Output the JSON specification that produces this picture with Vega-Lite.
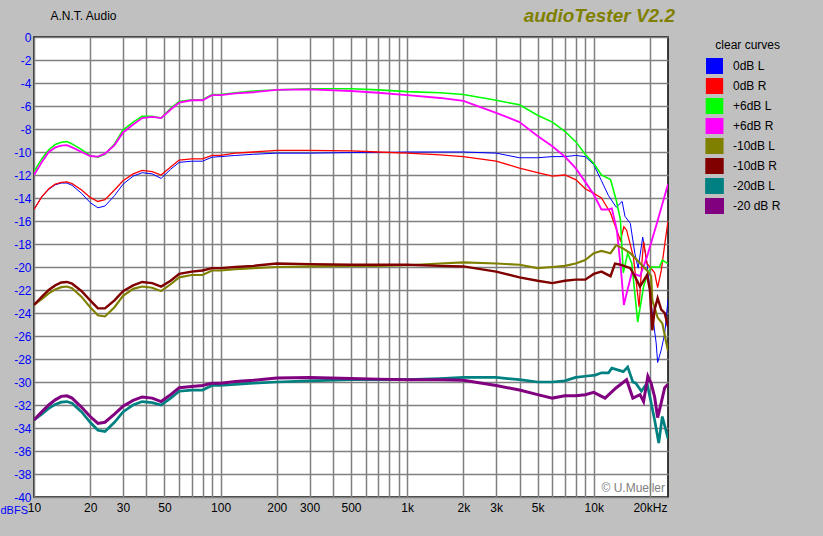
{
"$schema": "https://vega.github.io/schema/vega-lite/v6.json",
"width": 634, "height": 460,
"autosize": "none",
"padding": {"left": 34, "top": 37, "right": 155, "bottom": 39},
"background": "#c0c0c0",
"title": {"text": "audioTester V2.2", "anchor": "end", "frame": "group", "color": "#808000", "font": "Liberation Sans", "fontSize": 19, "fontWeight": "bold", "fontStyle": "italic", "offset": -36, "baseline": "bottom", "dx": 7},
"config": {"view": {"fill": "#ffffff", "stroke": "#000000", "strokeWidth": 1.5}, "font": "Liberation Sans", "axis": {"labelOverlap": false, "labelSeparation": 0}},
"layer": [
{
"data": {"values": [
{"series":"0dB L","hz":10,"db":-15.0},{"series":"0dB L","hz":11,"db":-13.9},{"series":"0dB L","hz":12,"db":-13.25},{"series":"0dB L","hz":13,"db":-12.85},{"series":"0dB L","hz":14,"db":-12.7},{"series":"0dB L","hz":15,"db":-12.7},{"series":"0dB L","hz":16,"db":-12.9},{"series":"0dB L","hz":18,"db":-13.6},{"series":"0dB L","hz":20,"db":-14.4},{"series":"0dB L","hz":22,"db":-14.85},{"series":"0dB L","hz":24,"db":-14.7},{"series":"0dB L","hz":27,"db":-13.8},{"series":"0dB L","hz":30,"db":-12.8},{"series":"0dB L","hz":34,"db":-12.1},{"series":"0dB L","hz":38,"db":-11.8},{"series":"0dB L","hz":43,"db":-11.9},{"series":"0dB L","hz":48,"db":-12.3},{"series":"0dB L","hz":54,"db":-11.5},{"series":"0dB L","hz":60,"db":-10.9},{"series":"0dB L","hz":70,"db":-10.8},{"series":"0dB L","hz":80,"db":-10.8},{"series":"0dB L","hz":90,"db":-10.45},{"series":"0dB L","hz":100,"db":-10.4},{"series":"0dB L","hz":120,"db":-10.3},{"series":"0dB L","hz":150,"db":-10.2},{"series":"0dB L","hz":200,"db":-10.1},{"series":"0dB L","hz":300,"db":-10.1},{"series":"0dB L","hz":500,"db":-10.05},{"series":"0dB L","hz":700,"db":-10.05},{"series":"0dB L","hz":1000,"db":-10.0},{"series":"0dB L","hz":1500,"db":-10.0},{"series":"0dB L","hz":2000,"db":-10.0},{"series":"0dB L","hz":3000,"db":-10.1},{"series":"0dB L","hz":4000,"db":-10.5},{"series":"0dB L","hz":5000,"db":-10.5},{"series":"0dB L","hz":6000,"db":-10.4},{"series":"0dB L","hz":7000,"db":-10.4},{"series":"0dB L","hz":8000,"db":-10.3},{"series":"0dB L","hz":9000,"db":-10.4},{"series":"0dB L","hz":10000,"db":-11.1},{"series":"0dB L","hz":11000,"db":-12.5},{"series":"0dB L","hz":12000,"db":-13.8},{"series":"0dB L","hz":13200,"db":-14.8},{"series":"0dB L","hz":14200,"db":-14.3},{"series":"0dB L","hz":14700,"db":-15.6},{"series":"0dB L","hz":15700,"db":-16.2},{"series":"0dB L","hz":16600,"db":-18.8},{"series":"0dB L","hz":17300,"db":-20.1},{"series":"0dB L","hz":18300,"db":-17.4},{"series":"0dB L","hz":19300,"db":-19.7},{"series":"0dB L","hz":20000,"db":-22.0},{"series":"0dB L","hz":20600,"db":-24.0},{"series":"0dB L","hz":21600,"db":-26.6},{"series":"0dB L","hz":22000,"db":-28.3},{"series":"0dB L","hz":23000,"db":-27.2},{"series":"0dB L","hz":24000,"db":-25.8},{"series":"0dB L","hz":25000,"db":-22.8},
{"series":"0dB R","hz":10,"db":-15.0},{"series":"0dB R","hz":11,"db":-13.9},{"series":"0dB R","hz":12,"db":-13.2},{"series":"0dB R","hz":13,"db":-12.8},{"series":"0dB R","hz":14,"db":-12.65},{"series":"0dB R","hz":15,"db":-12.6},{"series":"0dB R","hz":16,"db":-12.75},{"series":"0dB R","hz":18,"db":-13.3},{"series":"0dB R","hz":20,"db":-13.95},{"series":"0dB R","hz":22,"db":-14.3},{"series":"0dB R","hz":24,"db":-14.15},{"series":"0dB R","hz":27,"db":-13.3},{"series":"0dB R","hz":30,"db":-12.5},{"series":"0dB R","hz":34,"db":-11.9},{"series":"0dB R","hz":38,"db":-11.6},{"series":"0dB R","hz":43,"db":-11.7},{"series":"0dB R","hz":48,"db":-12.0},{"series":"0dB R","hz":54,"db":-11.3},{"series":"0dB R","hz":60,"db":-10.7},{"series":"0dB R","hz":70,"db":-10.6},{"series":"0dB R","hz":80,"db":-10.6},{"series":"0dB R","hz":90,"db":-10.3},{"series":"0dB R","hz":100,"db":-10.3},{"series":"0dB R","hz":120,"db":-10.1},{"series":"0dB R","hz":150,"db":-10.0},{"series":"0dB R","hz":200,"db":-9.85},{"series":"0dB R","hz":300,"db":-9.85},{"series":"0dB R","hz":500,"db":-9.9},{"series":"0dB R","hz":700,"db":-10.0},{"series":"0dB R","hz":1000,"db":-10.1},{"series":"0dB R","hz":1500,"db":-10.25},{"series":"0dB R","hz":2000,"db":-10.4},{"series":"0dB R","hz":3000,"db":-10.8},{"series":"0dB R","hz":4000,"db":-11.4},{"series":"0dB R","hz":5000,"db":-11.8},{"series":"0dB R","hz":6000,"db":-12.1},{"series":"0dB R","hz":7000,"db":-12.0},{"series":"0dB R","hz":8000,"db":-12.4},{"series":"0dB R","hz":9000,"db":-13.2},{"series":"0dB R","hz":10000,"db":-13.6},{"series":"0dB R","hz":11000,"db":-14.0},{"series":"0dB R","hz":12300,"db":-15.3},{"series":"0dB R","hz":13900,"db":-17.7},{"series":"0dB R","hz":14500,"db":-16.5},{"series":"0dB R","hz":15000,"db":-16.8},{"series":"0dB R","hz":16300,"db":-19.1},{"series":"0dB R","hz":17000,"db":-21.7},{"series":"0dB R","hz":17500,"db":-23.5},{"series":"0dB R","hz":18100,"db":-19.7},{"series":"0dB R","hz":18500,"db":-17.8},{"series":"0dB R","hz":19300,"db":-19.7},{"series":"0dB R","hz":20000,"db":-20.0},{"series":"0dB R","hz":21200,"db":-20.5},{"series":"0dB R","hz":22000,"db":-21.8},{"series":"0dB R","hz":23000,"db":-20.3},{"series":"0dB R","hz":23900,"db":-18.3},{"series":"0dB R","hz":25000,"db":-16.0},
{"series":"+6dB L","hz":10,"db":-11.7},{"series":"+6dB L","hz":11,"db":-10.6},{"series":"+6dB L","hz":12,"db":-9.8},{"series":"+6dB L","hz":13,"db":-9.35},{"series":"+6dB L","hz":14,"db":-9.15},{"series":"+6dB L","hz":15,"db":-9.1},{"series":"+6dB L","hz":16,"db":-9.3},{"series":"+6dB L","hz":18,"db":-9.8},{"series":"+6dB L","hz":20,"db":-10.3},{"series":"+6dB L","hz":22,"db":-10.45},{"series":"+6dB L","hz":24,"db":-10.2},{"series":"+6dB L","hz":27,"db":-9.3},{"series":"+6dB L","hz":30,"db":-8.1},{"series":"+6dB L","hz":34,"db":-7.4},{"series":"+6dB L","hz":38,"db":-6.9},{"series":"+6dB L","hz":43,"db":-6.9},{"series":"+6dB L","hz":48,"db":-7.05},{"series":"+6dB L","hz":54,"db":-6.2},{"series":"+6dB L","hz":60,"db":-5.6},{"series":"+6dB L","hz":70,"db":-5.45},{"series":"+6dB L","hz":80,"db":-5.45},{"series":"+6dB L","hz":90,"db":-5.0},{"series":"+6dB L","hz":100,"db":-5.0},{"series":"+6dB L","hz":120,"db":-4.85},{"series":"+6dB L","hz":150,"db":-4.7},{"series":"+6dB L","hz":200,"db":-4.6},{"series":"+6dB L","hz":300,"db":-4.5},{"series":"+6dB L","hz":500,"db":-4.5},{"series":"+6dB L","hz":700,"db":-4.6},{"series":"+6dB L","hz":1000,"db":-4.75},{"series":"+6dB L","hz":1500,"db":-4.85},{"series":"+6dB L","hz":2000,"db":-5.0},{"series":"+6dB L","hz":3000,"db":-5.5},{"series":"+6dB L","hz":4000,"db":-5.9},{"series":"+6dB L","hz":5000,"db":-6.8},{"series":"+6dB L","hz":6000,"db":-7.4},{"series":"+6dB L","hz":7000,"db":-8.2},{"series":"+6dB L","hz":8000,"db":-9.1},{"series":"+6dB L","hz":9000,"db":-10.2},{"series":"+6dB L","hz":10000,"db":-11.0},{"series":"+6dB L","hz":11000,"db":-12.0},{"series":"+6dB L","hz":12300,"db":-12.4},{"series":"+6dB L","hz":13200,"db":-14.2},{"series":"+6dB L","hz":13900,"db":-15.9},{"series":"+6dB L","hz":14400,"db":-20.5},{"series":"+6dB L","hz":15200,"db":-18.8},{"series":"+6dB L","hz":16000,"db":-19.7},{"series":"+6dB L","hz":17200,"db":-24.8},{"series":"+6dB L","hz":18500,"db":-21.7},{"series":"+6dB L","hz":19500,"db":-20.5},{"series":"+6dB L","hz":20400,"db":-20.0},{"series":"+6dB L","hz":22500,"db":-20.0},{"series":"+6dB L","hz":23300,"db":-19.4},{"series":"+6dB L","hz":25000,"db":-19.7},
{"series":"+6dB R","hz":10,"db":-12.0},{"series":"+6dB R","hz":11,"db":-10.9},{"series":"+6dB R","hz":12,"db":-10.0},{"series":"+6dB R","hz":13,"db":-9.6},{"series":"+6dB R","hz":14,"db":-9.45},{"series":"+6dB R","hz":15,"db":-9.4},{"series":"+6dB R","hz":16,"db":-9.6},{"series":"+6dB R","hz":18,"db":-10.0},{"series":"+6dB R","hz":20,"db":-10.35},{"series":"+6dB R","hz":22,"db":-10.4},{"series":"+6dB R","hz":24,"db":-10.15},{"series":"+6dB R","hz":27,"db":-9.4},{"series":"+6dB R","hz":30,"db":-8.3},{"series":"+6dB R","hz":34,"db":-7.6},{"series":"+6dB R","hz":38,"db":-7.05},{"series":"+6dB R","hz":43,"db":-6.95},{"series":"+6dB R","hz":48,"db":-7.05},{"series":"+6dB R","hz":54,"db":-6.3},{"series":"+6dB R","hz":60,"db":-5.7},{"series":"+6dB R","hz":70,"db":-5.5},{"series":"+6dB R","hz":80,"db":-5.5},{"series":"+6dB R","hz":90,"db":-5.05},{"series":"+6dB R","hz":100,"db":-5.05},{"series":"+6dB R","hz":120,"db":-4.9},{"series":"+6dB R","hz":150,"db":-4.8},{"series":"+6dB R","hz":200,"db":-4.6},{"series":"+6dB R","hz":300,"db":-4.55},{"series":"+6dB R","hz":500,"db":-4.7},{"series":"+6dB R","hz":700,"db":-4.85},{"series":"+6dB R","hz":1000,"db":-5.05},{"series":"+6dB R","hz":1500,"db":-5.3},{"series":"+6dB R","hz":2000,"db":-5.55},{"series":"+6dB R","hz":3000,"db":-6.6},{"series":"+6dB R","hz":4000,"db":-7.4},{"series":"+6dB R","hz":5000,"db":-8.6},{"series":"+6dB R","hz":6000,"db":-9.5},{"series":"+6dB R","hz":7000,"db":-10.4},{"series":"+6dB R","hz":8000,"db":-11.4},{"series":"+6dB R","hz":9000,"db":-12.6},{"series":"+6dB R","hz":10000,"db":-13.7},{"series":"+6dB R","hz":11000,"db":-15.0},{"series":"+6dB R","hz":12000,"db":-15.0},{"series":"+6dB R","hz":12500,"db":-14.9},{"series":"+6dB R","hz":13300,"db":-16.8},{"series":"+6dB R","hz":14000,"db":-20.3},{"series":"+6dB R","hz":14500,"db":-23.3},{"series":"+6dB R","hz":15000,"db":-22.3},{"series":"+6dB R","hz":16000,"db":-20.5},{"series":"+6dB R","hz":17700,"db":-20.8},{"series":"+6dB R","hz":19300,"db":-19.1},{"series":"+6dB R","hz":21800,"db":-16.2},{"series":"+6dB R","hz":25000,"db":-12.8},
{"series":"-10dB L","hz":10,"db":-23.3},{"series":"-10dB L","hz":11,"db":-22.8},{"series":"-10dB L","hz":12,"db":-22.3},{"series":"-10dB L","hz":13,"db":-21.95},{"series":"-10dB L","hz":14,"db":-21.75},{"series":"-10dB L","hz":15,"db":-21.7},{"series":"-10dB L","hz":16,"db":-21.85},{"series":"-10dB L","hz":18,"db":-22.6},{"series":"-10dB L","hz":20,"db":-23.5},{"series":"-10dB L","hz":22,"db":-24.2},{"series":"-10dB L","hz":24,"db":-24.3},{"series":"-10dB L","hz":27,"db":-23.5},{"series":"-10dB L","hz":30,"db":-22.5},{"series":"-10dB L","hz":34,"db":-21.9},{"series":"-10dB L","hz":38,"db":-21.7},{"series":"-10dB L","hz":43,"db":-21.8},{"series":"-10dB L","hz":48,"db":-22.1},{"series":"-10dB L","hz":54,"db":-21.5},{"series":"-10dB L","hz":60,"db":-20.9},{"series":"-10dB L","hz":70,"db":-20.7},{"series":"-10dB L","hz":80,"db":-20.7},{"series":"-10dB L","hz":90,"db":-20.3},{"series":"-10dB L","hz":100,"db":-20.3},{"series":"-10dB L","hz":120,"db":-20.2},{"series":"-10dB L","hz":150,"db":-20.1},{"series":"-10dB L","hz":200,"db":-20.0},{"series":"-10dB L","hz":300,"db":-19.95},{"series":"-10dB L","hz":500,"db":-19.9},{"series":"-10dB L","hz":700,"db":-19.9},{"series":"-10dB L","hz":1000,"db":-19.85},{"series":"-10dB L","hz":1500,"db":-19.7},{"series":"-10dB L","hz":2000,"db":-19.6},{"series":"-10dB L","hz":3000,"db":-19.7},{"series":"-10dB L","hz":4000,"db":-19.8},{"series":"-10dB L","hz":5000,"db":-20.1},{"series":"-10dB L","hz":6000,"db":-20.0},{"series":"-10dB L","hz":7000,"db":-19.9},{"series":"-10dB L","hz":8000,"db":-19.7},{"series":"-10dB L","hz":9000,"db":-19.4},{"series":"-10dB L","hz":10000,"db":-18.8},{"series":"-10dB L","hz":11000,"db":-18.6},{"series":"-10dB L","hz":12300,"db":-18.8},{"series":"-10dB L","hz":13200,"db":-18.1},{"series":"-10dB L","hz":14400,"db":-18.4},{"series":"-10dB L","hz":15700,"db":-18.8},{"series":"-10dB L","hz":17300,"db":-19.5},{"series":"-10dB L","hz":19300,"db":-20.3},{"series":"-10dB L","hz":20300,"db":-20.8},{"series":"-10dB L","hz":20600,"db":-22.9},{"series":"-10dB L","hz":22000,"db":-24.4},{"series":"-10dB L","hz":23300,"db":-24.9},{"series":"-10dB L","hz":25000,"db":-27.3},
{"series":"-10dB R","hz":10,"db":-23.3},{"series":"-10dB R","hz":11,"db":-22.6},{"series":"-10dB R","hz":12,"db":-22.0},{"series":"-10dB R","hz":13,"db":-21.6},{"series":"-10dB R","hz":14,"db":-21.35},{"series":"-10dB R","hz":15,"db":-21.3},{"series":"-10dB R","hz":16,"db":-21.45},{"series":"-10dB R","hz":18,"db":-22.1},{"series":"-10dB R","hz":20,"db":-22.9},{"series":"-10dB R","hz":22,"db":-23.6},{"series":"-10dB R","hz":24,"db":-23.6},{"series":"-10dB R","hz":27,"db":-22.9},{"series":"-10dB R","hz":30,"db":-22.1},{"series":"-10dB R","hz":34,"db":-21.6},{"series":"-10dB R","hz":38,"db":-21.3},{"series":"-10dB R","hz":43,"db":-21.4},{"series":"-10dB R","hz":48,"db":-21.7},{"series":"-10dB R","hz":54,"db":-21.2},{"series":"-10dB R","hz":60,"db":-20.6},{"series":"-10dB R","hz":70,"db":-20.4},{"series":"-10dB R","hz":80,"db":-20.3},{"series":"-10dB R","hz":90,"db":-20.1},{"series":"-10dB R","hz":100,"db":-20.1},{"series":"-10dB R","hz":120,"db":-20.0},{"series":"-10dB R","hz":150,"db":-19.9},{"series":"-10dB R","hz":200,"db":-19.7},{"series":"-10dB R","hz":300,"db":-19.75},{"series":"-10dB R","hz":500,"db":-19.8},{"series":"-10dB R","hz":700,"db":-19.8},{"series":"-10dB R","hz":1000,"db":-19.8},{"series":"-10dB R","hz":1500,"db":-19.9},{"series":"-10dB R","hz":2000,"db":-19.95},{"series":"-10dB R","hz":3000,"db":-20.4},{"series":"-10dB R","hz":4000,"db":-20.9},{"series":"-10dB R","hz":5000,"db":-21.2},{"series":"-10dB R","hz":6000,"db":-21.4},{"series":"-10dB R","hz":7000,"db":-21.2},{"series":"-10dB R","hz":8000,"db":-21.1},{"series":"-10dB R","hz":9000,"db":-21.1},{"series":"-10dB R","hz":10000,"db":-20.6},{"series":"-10dB R","hz":11000,"db":-20.4},{"series":"-10dB R","hz":12300,"db":-20.8},{"series":"-10dB R","hz":13000,"db":-19.7},{"series":"-10dB R","hz":13900,"db":-19.8},{"series":"-10dB R","hz":15700,"db":-20.1},{"series":"-10dB R","hz":16600,"db":-20.8},{"series":"-10dB R","hz":17700,"db":-21.7},{"series":"-10dB R","hz":19300,"db":-20.7},{"series":"-10dB R","hz":20000,"db":-22.0},{"series":"-10dB R","hz":20600,"db":-25.5},{"series":"-10dB R","hz":21200,"db":-23.7},{"series":"-10dB R","hz":22000,"db":-22.7},{"series":"-10dB R","hz":23000,"db":-23.7},{"series":"-10dB R","hz":24000,"db":-24.0},{"series":"-10dB R","hz":25000,"db":-25.2},
{"series":"-20dB L","hz":10,"db":-33.3},{"series":"-20dB L","hz":11,"db":-32.8},{"series":"-20dB L","hz":12,"db":-32.3},{"series":"-20dB L","hz":13,"db":-31.95},{"series":"-20dB L","hz":14,"db":-31.75},{"series":"-20dB L","hz":15,"db":-31.7},{"series":"-20dB L","hz":16,"db":-31.85},{"series":"-20dB L","hz":18,"db":-32.6},{"series":"-20dB L","hz":20,"db":-33.5},{"series":"-20dB L","hz":22,"db":-34.2},{"series":"-20dB L","hz":24,"db":-34.3},{"series":"-20dB L","hz":27,"db":-33.5},{"series":"-20dB L","hz":30,"db":-32.6},{"series":"-20dB L","hz":34,"db":-32.0},{"series":"-20dB L","hz":38,"db":-31.7},{"series":"-20dB L","hz":43,"db":-31.8},{"series":"-20dB L","hz":48,"db":-32.0},{"series":"-20dB L","hz":54,"db":-31.4},{"series":"-20dB L","hz":60,"db":-30.8},{"series":"-20dB L","hz":70,"db":-30.7},{"series":"-20dB L","hz":80,"db":-30.7},{"series":"-20dB L","hz":90,"db":-30.3},{"series":"-20dB L","hz":100,"db":-30.3},{"series":"-20dB L","hz":120,"db":-30.2},{"series":"-20dB L","hz":150,"db":-30.1},{"series":"-20dB L","hz":200,"db":-30.0},{"series":"-20dB L","hz":300,"db":-29.9},{"series":"-20dB L","hz":500,"db":-29.8},{"series":"-20dB L","hz":700,"db":-29.8},{"series":"-20dB L","hz":1000,"db":-29.8},{"series":"-20dB L","hz":1500,"db":-29.7},{"series":"-20dB L","hz":2000,"db":-29.6},{"series":"-20dB L","hz":3000,"db":-29.6},{"series":"-20dB L","hz":4000,"db":-29.8},{"series":"-20dB L","hz":5000,"db":-30.0},{"series":"-20dB L","hz":6000,"db":-30.0},{"series":"-20dB L","hz":7000,"db":-29.9},{"series":"-20dB L","hz":8000,"db":-29.6},{"series":"-20dB L","hz":9000,"db":-29.5},{"series":"-20dB L","hz":10200,"db":-29.4},{"series":"-20dB L","hz":11000,"db":-29.2},{"series":"-20dB L","hz":12000,"db":-29.2},{"series":"-20dB L","hz":12500,"db":-28.8},{"series":"-20dB L","hz":14400,"db":-29.1},{"series":"-20dB L","hz":15200,"db":-28.7},{"series":"-20dB L","hz":16200,"db":-30.0},{"series":"-20dB L","hz":16800,"db":-30.1},{"series":"-20dB L","hz":18000,"db":-30.8},{"series":"-20dB L","hz":19300,"db":-30.1},{"series":"-20dB L","hz":20300,"db":-31.8},{"series":"-20dB L","hz":21200,"db":-33.3},{"series":"-20dB L","hz":22300,"db":-35.3},{"series":"-20dB L","hz":23300,"db":-33.0},{"series":"-20dB L","hz":25000,"db":-34.9},
{"series":"-20 dB R","hz":10,"db":-33.3},{"series":"-20 dB R","hz":11,"db":-32.6},{"series":"-20 dB R","hz":12,"db":-32.0},{"series":"-20 dB R","hz":13,"db":-31.55},{"series":"-20 dB R","hz":14,"db":-31.25},{"series":"-20 dB R","hz":15,"db":-31.2},{"series":"-20 dB R","hz":16,"db":-31.4},{"series":"-20 dB R","hz":18,"db":-32.2},{"series":"-20 dB R","hz":20,"db":-33.0},{"series":"-20 dB R","hz":22,"db":-33.6},{"series":"-20 dB R","hz":24,"db":-33.5},{"series":"-20 dB R","hz":27,"db":-32.8},{"series":"-20 dB R","hz":30,"db":-32.1},{"series":"-20 dB R","hz":34,"db":-31.6},{"series":"-20 dB R","hz":38,"db":-31.3},{"series":"-20 dB R","hz":43,"db":-31.4},{"series":"-20 dB R","hz":48,"db":-31.7},{"series":"-20 dB R","hz":54,"db":-31.1},{"series":"-20 dB R","hz":60,"db":-30.5},{"series":"-20 dB R","hz":70,"db":-30.4},{"series":"-20 dB R","hz":80,"db":-30.3},{"series":"-20 dB R","hz":90,"db":-30.1},{"series":"-20 dB R","hz":100,"db":-30.1},{"series":"-20 dB R","hz":120,"db":-29.95},{"series":"-20 dB R","hz":150,"db":-29.85},{"series":"-20 dB R","hz":200,"db":-29.65},{"series":"-20 dB R","hz":300,"db":-29.6},{"series":"-20 dB R","hz":500,"db":-29.7},{"series":"-20 dB R","hz":700,"db":-29.75},{"series":"-20 dB R","hz":1000,"db":-29.8},{"series":"-20 dB R","hz":1500,"db":-29.8},{"series":"-20 dB R","hz":2000,"db":-29.85},{"series":"-20 dB R","hz":3000,"db":-30.3},{"series":"-20 dB R","hz":4000,"db":-30.7},{"series":"-20 dB R","hz":5000,"db":-31.1},{"series":"-20 dB R","hz":6000,"db":-31.4},{"series":"-20 dB R","hz":7000,"db":-31.2},{"series":"-20 dB R","hz":8000,"db":-31.2},{"series":"-20 dB R","hz":9000,"db":-31.1},{"series":"-20 dB R","hz":10000,"db":-30.9},{"series":"-20 dB R","hz":11500,"db":-31.4},{"series":"-20 dB R","hz":13200,"db":-30.5},{"series":"-20 dB R","hz":15000,"db":-29.8},{"series":"-20 dB R","hz":16200,"db":-31.4},{"series":"-20 dB R","hz":17700,"db":-31.1},{"series":"-20 dB R","hz":18500,"db":-31.7},{"series":"-20 dB R","hz":19500,"db":-29.5},{"series":"-20 dB R","hz":20300,"db":-30.1},{"series":"-20 dB R","hz":21200,"db":-31.3},{"series":"-20 dB R","hz":22000,"db":-33.1},{"series":"-20 dB R","hz":23000,"db":-31.8},{"series":"-20 dB R","hz":24000,"db":-30.5},{"series":"-20 dB R","hz":25000,"db":-30.2}
]},
"mark": {"type": "line", "clip": true},
"encoding": {
"x": {"field": "hz", "type": "quantitative",
 "scale": {"type": "log", "domain": [10, 25000], "nice": false},
 "axis": {"values": [10,20,30,40,50,60,70,80,90,100,200,300,400,500,600,700,800,900,1000,2000,3000,4000,5000,6000,7000,8000,9000,10000,20000],
  "tickCount": 100,
  "labelExpr": "indexof([10,20,30,50,100,200,300,500],datum.value)>=0 ? toString(datum.value) : datum.value==1000 ? '1k' : datum.value==2000 ? '2k' : datum.value==3000 ? '3k' : datum.value==5000 ? '5k' : datum.value==10000 ? '10k' : datum.value==20000 ? '20kHz' : ''",
  "grid": true, "gridColor": "#808080", "gridWidth": 1.5, "ticks": false, "domain": false,
  "labelColor": "#000000", "labelFontSize": 12, "labelFont": "Liberation Sans", "labelPadding": 5, "labelOverlap": false, "labelFlush": false,
  "title": "dBFS", "titleX": -34, "titleY": 13, "titleAlign": "left", "titleBaseline": "middle", "titleColor": "#0000ff", "titleFontWeight": "normal", "titleFontSize": 11, "titleFont": "Liberation Sans"}},
"y": {"field": "db", "type": "quantitative",
 "scale": {"domain": [-40, 0], "nice": false},
 "axis": {"values": [-40,-38,-36,-34,-32,-30,-28,-26,-24,-22,-20,-18,-16,-14,-12,-10,-8,-6,-4,-2,0],
  "tickCount": 100,
  "labelExpr": "datum.value == 0 ? '0' : '-' + toString(abs(datum.value))",
  "grid": true, "gridColor": "#808080", "gridWidth": 1.5, "ticks": false, "domain": false,
  "labelColor": "#0000ff", "labelFontSize": 12, "labelFont": "Liberation Sans", "labelPadding": 3, "labelOverlap": false, "labelSeparation": 0, "labelFlush": false, "labelBound": false,
  "title": "A.N.T. Audio", "titleAngle": 0, "titleX": 16, "titleY": -22, "titleAlign": "left", "titleBaseline": "middle", "titleColor": "#000000", "titleFontWeight": "normal", "titleFontSize": 12, "titleFont": "Liberation Sans"}},
"color": {"field": "series", "type": "nominal",
 "scale": {"domain": ["0dB L","0dB R","+6dB L","+6dB R","-10dB L","-10dB R","-20dB L","-20 dB R"],
  "range": ["#0000ff","#ff0000","#00ff00","#ff00ff","#808000","#800000","#008080","#800080"]},
 "legend": {"orient": "none", "legendX": 671, "legendY": 3, "title": "clear curves", "titleFontSize": 12, "titleFontWeight": "normal", "titleColor": "#000000", "titleFont": "Liberation Sans", "titleAnchor": "end", "titlePadding": 6,
  "labelFontSize": 12, "labelColor": "#000000", "labelFont": "Liberation Sans", "labelOffset": 9, "symbolType": "square", "symbolSize": 256, "rowPadding": 4, "clipHeight": 16,
  "encode": {"symbols": {"update": {"fill": {"scale": "color", "field": "value"}, "stroke": {"value": "#ffffff"}, "strokeWidth": {"value": 1.5}, "opacity": {"value": 1}}}}}},
"strokeWidth": {"field": "series", "type": "nominal",
 "scale": {"domain": ["0dB L","0dB R","+6dB L","+6dB R","-10dB L","-10dB R","-20dB L","-20 dB R"], "range": [1,3,1,3,1,3,1,3]},
 "legend": null}
}
},
{
"data": {"values": [{"note": "© U.Mueller"}]},
"mark": {"type": "text", "align": "right", "baseline": "bottom", "dx": -3, "dy": -2, "color": "#808080", "fontSize": 12, "font": "Liberation Sans"},
"encoding": {
"x": {"datum": 25000},
"y": {"datum": -40},
"text": {"field": "note"}
}
}
]
}
